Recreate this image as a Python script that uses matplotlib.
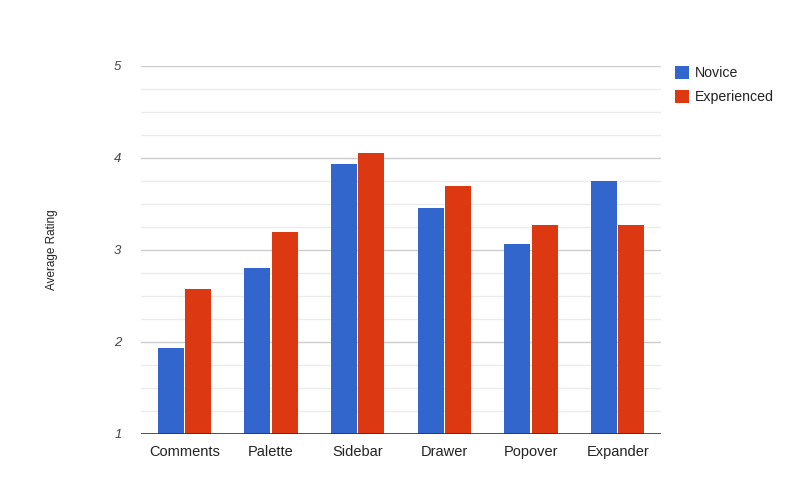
import numpy as np
import matplotlib.pyplot as plt
from matplotlib.patches import Patch

plt.rcParams['font.family'] = ['Liberation Sans', 'DejaVu Sans']

categorias = ["Comments", "Palette", "Sidebar", "Drawer", "Popover", "Expander"]
novice = [1.93, 2.80, 3.93, 3.46, 3.06, 3.75]
experienced = [2.58, 3.20, 4.05, 3.70, 3.27, 3.27]
series = ["Novice", "Experienced"]
cores = ["#3366cc", "#dc3912"]

fig = plt.figure(figsize=(8, 5), dpi=100)
ax = fig.add_axes([141 / 800, 66 / 500, 520 / 800, 368 / 500])

x = np.arange(len(categorias))
w = 0.3
ax.bar(x - w / 2 - 0.006, novice, w, color=cores[0], zorder=3)
ax.bar(x + w / 2 + 0.006, experienced, w, color=cores[1], zorder=3)

ax.set_xlim(-0.5, len(categorias) - 0.5)
ax.set_ylim(1, 5)

# grade
for v in np.arange(1.25, 5.0, 0.25):
    cor = "#cccccc" if abs(v - round(v)) < 1e-6 else "#ebebeb"
    ax.axhline(v, color=cor, lw=1, zorder=1)
ax.axhline(5, color="#cccccc", lw=1, zorder=1)
ax.axhline(1, color="#333333", lw=1.2, zorder=4)

for s in ax.spines.values():
    s.set_visible(False)

ax.set_yticks([1, 2, 3, 4, 5])
ax.set_yticklabels(["1", "2", "3", "4", "5"], fontstyle="italic", fontsize=9.5, color="#444444")
ax.set_xticks(x)
ax.set_xticklabels(categorias, fontsize=10.5, color="#222222")
ax.tick_params(axis="both", length=0)
ax.tick_params(axis="y", pad=14)
ax.tick_params(axis="x", pad=8)

fig.text(52 / 800, 1 - 250 / 500, "Average Rating", rotation=90, ha="center", va="center",
         fontsize=8.5, color="#222222")

handles = [Patch(facecolor=c, edgecolor="none") for c in cores]
fig.legend(handles, series, loc="upper left", bbox_to_anchor=(662 / 800, 1 - 53 / 500),
           frameon=False, fontsize=10.2, labelcolor="#222222", handlelength=1.03,
           handleheight=1.03, handletextpad=0.4, labelspacing=0.7)

fig.savefig("out.png", dpi=100)
